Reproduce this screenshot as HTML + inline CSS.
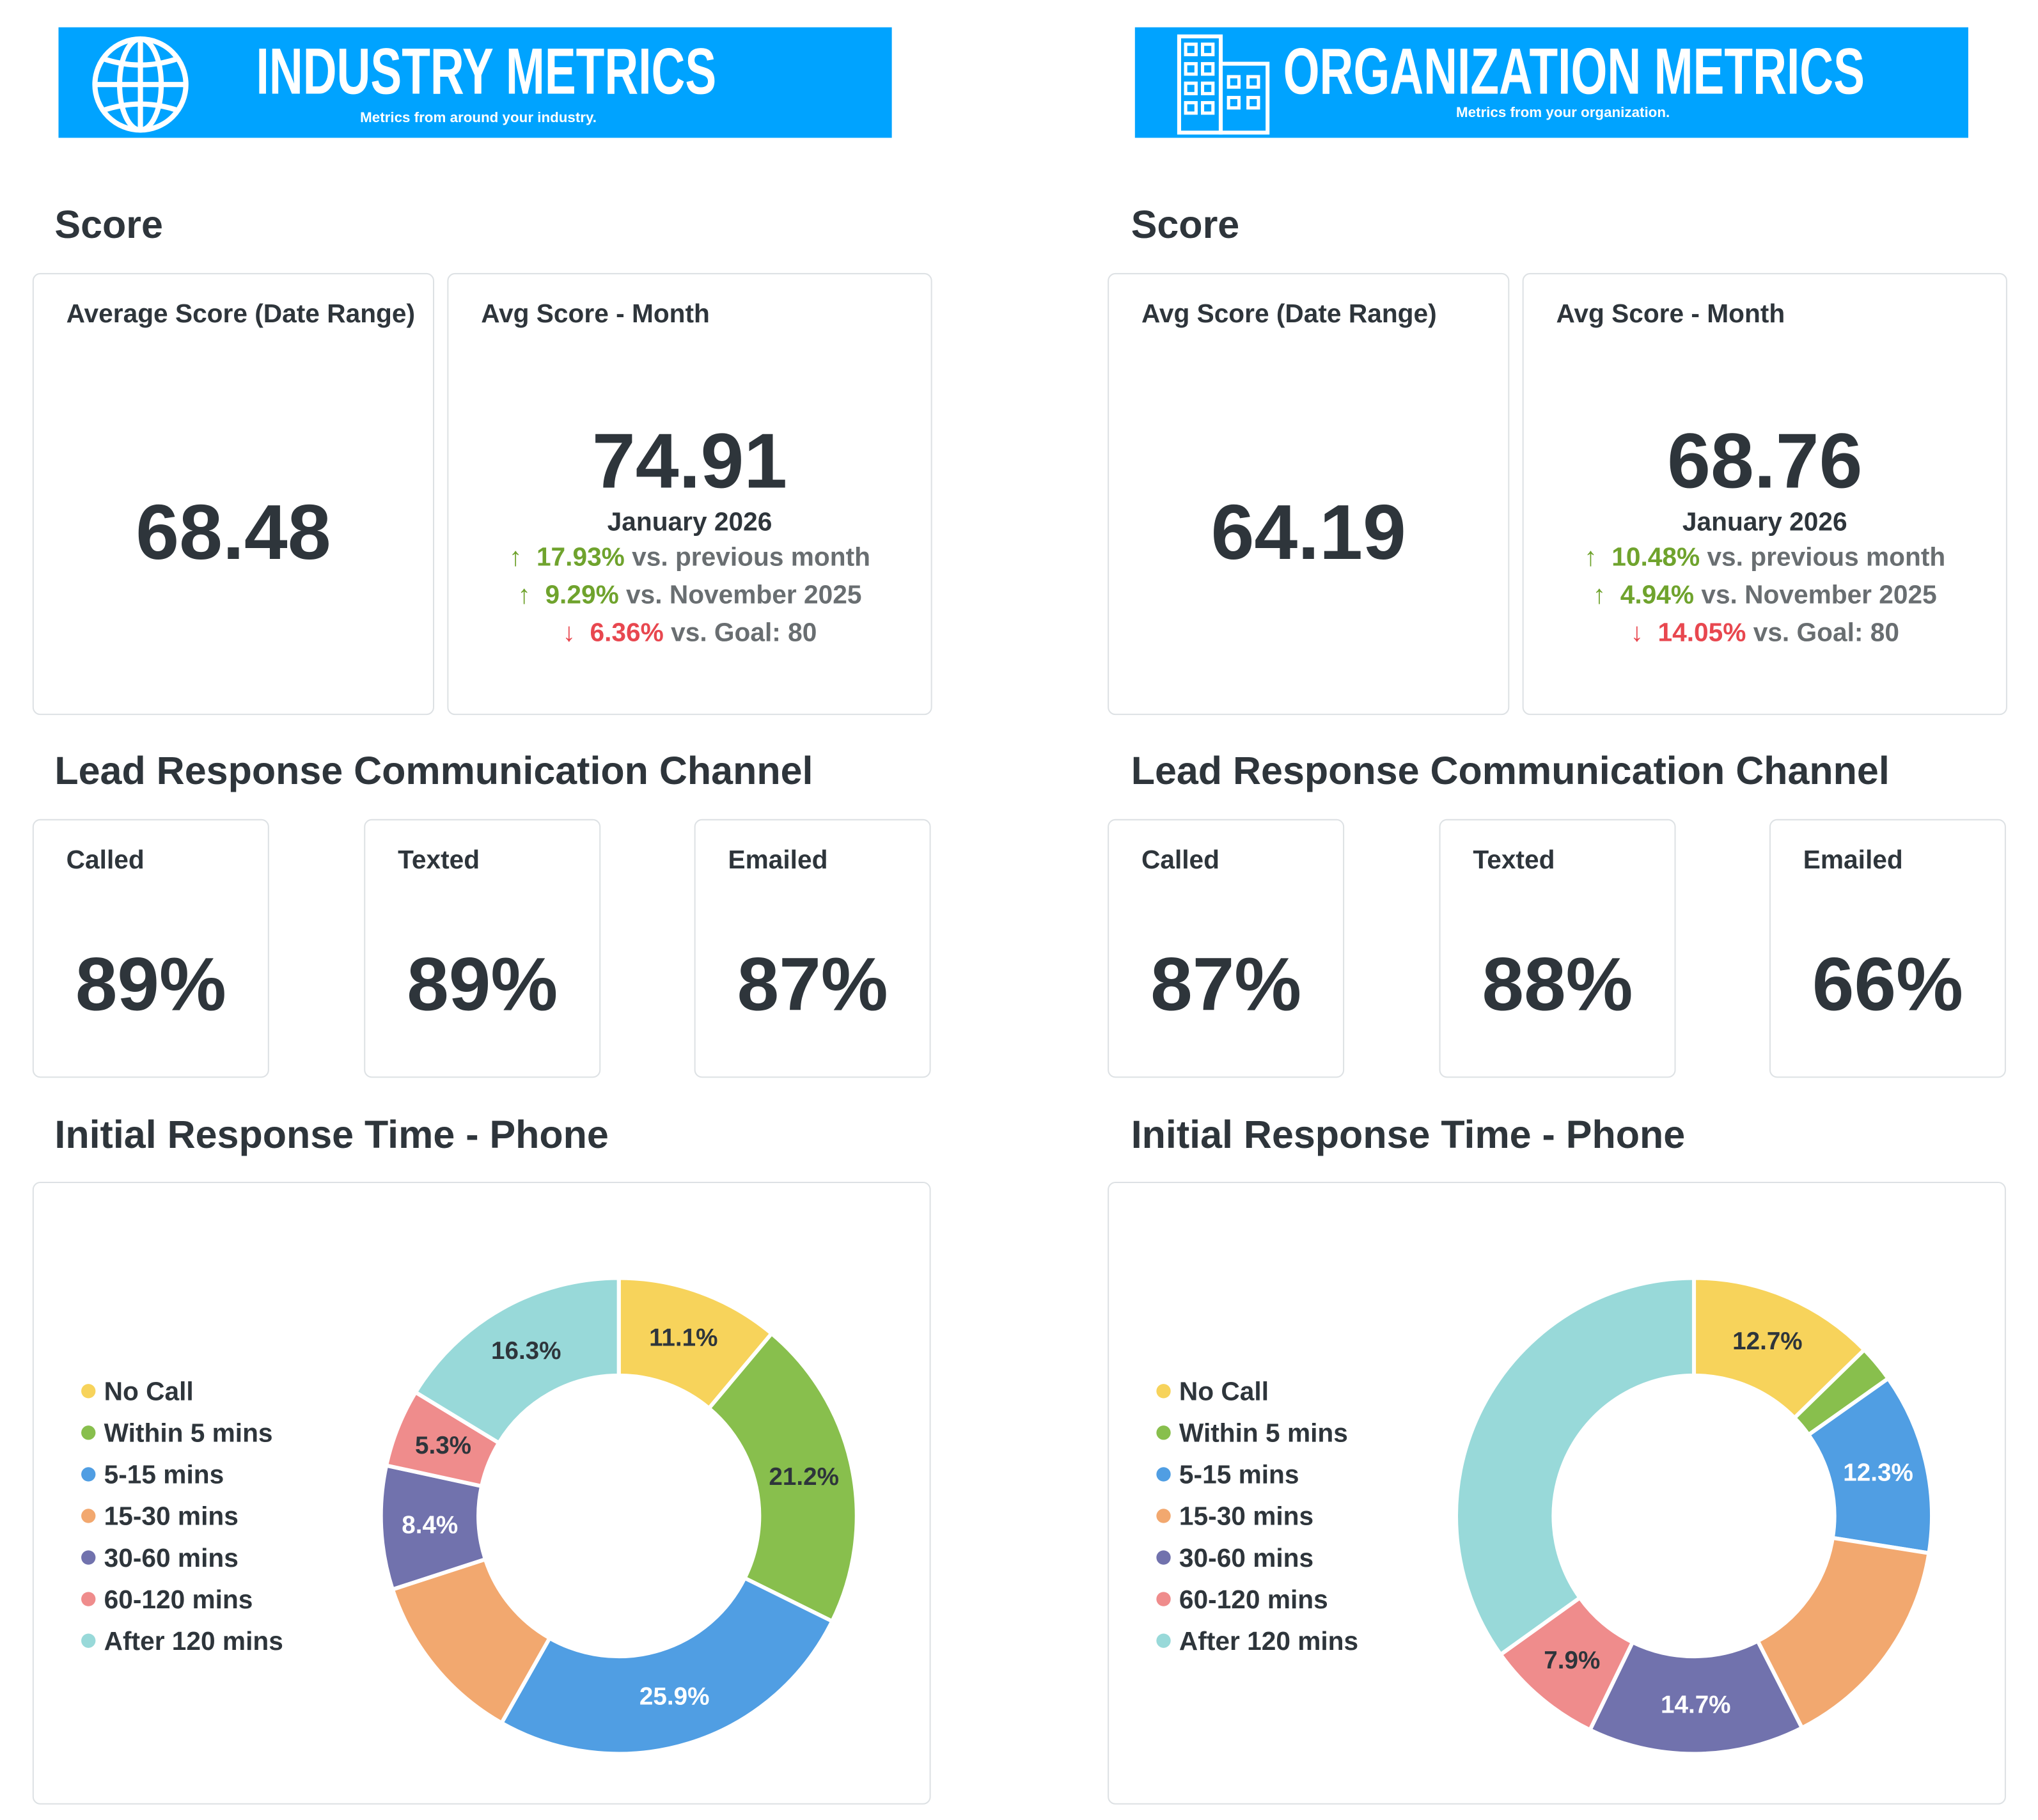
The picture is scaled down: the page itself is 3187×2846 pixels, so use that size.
<!DOCTYPE html>
<html><head><meta charset="utf-8">
<style>
html,body{margin:0;padding:0;background:#fff;}
body{width:3187px;height:2843px;overflow:hidden;position:relative;}
#root{position:absolute;left:0;top:0;width:1560px;height:1400px;transform:scale(2.033);transform-origin:0 0;font-family:"Liberation Sans",sans-serif;color:#2e353b;}
.abs{position:absolute;}
.banner{position:absolute;top:21px;height:85px;width:641px;background:#00a3ff;color:#fff;}
.btitle{position:absolute;font-weight:bold;font-size:50px;line-height:1;white-space:nowrap;transform:scaleX(0.72);transform-origin:0 0;}
.bsub{position:absolute;font-size:11px;font-weight:bold;white-space:nowrap;}
.h{position:absolute;font-size:30px;font-weight:bold;line-height:1;color:#2e353b;white-space:nowrap;}
.card{position:absolute;border:1.5px solid #dde1e4;border-radius:6px;background:#fff;box-sizing:border-box;}
.ctitle{position:absolute;left:25px;top:20px;font-size:20px;font-weight:bold;color:#2e353b;white-space:nowrap;}
.big{position:absolute;left:0;right:0;text-align:center;font-weight:bold;font-size:60px;line-height:1;}
.line{position:absolute;left:0;right:0;text-align:center;font-size:20px;line-height:1;color:#696e71;font-weight:bold;white-space:nowrap;}
.g{color:#6fa32d}.r{color:#e8474f}
.pct{position:absolute;left:0;right:0;text-align:center;font-size:58px;font-weight:bold;top:98px;line-height:1;}
</style></head><body>
<div id="root">
<div class="banner" style="left:45px">
 <svg class="abs" style="left:25px;top:6px" width="78" height="76" viewBox="0 0 78 76">
  <g fill="none" stroke="#fff" stroke-width="4">
   <ellipse cx="38" cy="38" rx="35" ry="35"/><ellipse cx="38" cy="38" rx="16" ry="35"/>
   <line x1="38" y1="3" x2="38" y2="73"/><line x1="3" y1="38" x2="73" y2="38"/>
   <path d="M9 18 Q38 28 67 18"/><path d="M9 58 Q38 48 67 58"/>
  </g></svg>
 <div class="btitle" style="left:152px;top:9px">INDUSTRY METRICS</div>
 <div class="bsub" style="left:232px;top:64px">Metrics from around your industry.</div>
</div>
<div class="banner" style="left:873px">
 <svg class="abs" style="left:28px;top:4px" width="80" height="80" viewBox="0 0 80 80">
  <g fill="none" stroke="#fff" stroke-width="3">
   <rect x="6" y="3" width="32" height="74"/><rect x="38" y="24" width="36" height="53"/>
   <g stroke-width="2.5">
   <rect x="11" y="9" width="8" height="8"/><rect x="24" y="9" width="8" height="8"/>
   <rect x="11" y="24" width="8" height="8"/><rect x="24" y="24" width="8" height="8"/>
   <rect x="11" y="39" width="8" height="8"/><rect x="24" y="39" width="8" height="8"/>
   <rect x="11" y="54" width="8" height="8"/><rect x="24" y="54" width="8" height="8"/>
   <rect x="44" y="34" width="8" height="8"/><rect x="59" y="34" width="8" height="8"/>
   <rect x="44" y="50" width="8" height="8"/><rect x="59" y="50" width="8" height="8"/>
   </g></g></svg>
 <div class="btitle" style="left:114px;top:9px">ORGANIZATION METRICS</div>
 <div class="bsub" style="left:247px;top:60px">Metrics from your organization.</div>
</div>

<div class="h" style="left:42px;top:159px">Score</div>
<div class="card" style="left:25px;top:210px;width:309px;height:340px">
 <div class="ctitle">Average Score (Date Range)</div>
 <div class="big" style="top:169px">68.48</div>
</div>
<div class="card" style="left:344px;top:210px;width:373px;height:340px">
 <div class="ctitle">Avg Score - Month</div>
 <div class="big" style="top:114px">74.91</div>
 <div class="line" style="top:181px;color:#2e353b">January 2026</div>
 <div class="line" style="top:208px"><span class="g">↑&nbsp; 17.93%</span> vs. previous month</div>
 <div class="line" style="top:237px"><span class="g">↑&nbsp; 9.29%</span> vs. November 2025</div>
 <div class="line" style="top:266px"><span class="r">↓&nbsp; 6.36%</span> vs. Goal: 80</div>
</div>
<div class="h" style="left:42px;top:579px">Lead Response Communication Channel</div>
<div class="card" style="left:25px;top:630px;width:182px;height:199px"><div class="ctitle">Called</div><div class="pct">89%</div></div>
<div class="card" style="left:280px;top:630px;width:182px;height:199px"><div class="ctitle">Texted</div><div class="pct">89%</div></div>
<div class="card" style="left:534px;top:630px;width:182px;height:199px"><div class="ctitle">Emailed</div><div class="pct">87%</div></div>
<div class="h" style="left:42px;top:859px">Initial Response Time - Phone</div>
<div class="card" style="left:25px;top:909px;width:691px;height:479px">
 <svg id="donutL" class="abs" style="left:0;top:0" width="691" height="479"></svg>
</div>

<div class="h" style="left:870px;top:159px">Score</div>
<div class="card" style="left:852px;top:210px;width:309px;height:340px">
 <div class="ctitle">Avg Score (Date Range)</div>
 <div class="big" style="top:169px">64.19</div>
</div>
<div class="card" style="left:1171px;top:210px;width:373px;height:340px">
 <div class="ctitle">Avg Score - Month</div>
 <div class="big" style="top:114px">68.76</div>
 <div class="line" style="top:181px;color:#2e353b">January 2026</div>
 <div class="line" style="top:208px"><span class="g">↑&nbsp; 10.48%</span> vs. previous month</div>
 <div class="line" style="top:237px"><span class="g">↑&nbsp; 4.94%</span> vs. November 2025</div>
 <div class="line" style="top:266px"><span class="r">↓&nbsp; 14.05%</span> vs. Goal: 80</div>
</div>
<div class="h" style="left:870px;top:579px">Lead Response Communication Channel</div>
<div class="card" style="left:852px;top:630px;width:182px;height:199px"><div class="ctitle">Called</div><div class="pct">87%</div></div>
<div class="card" style="left:1107px;top:630px;width:182px;height:199px"><div class="ctitle">Texted</div><div class="pct">88%</div></div>
<div class="card" style="left:1361px;top:630px;width:182px;height:199px"><div class="ctitle">Emailed</div><div class="pct">66%</div></div>
<div class="h" style="left:870px;top:859px">Initial Response Time - Phone</div>
<div class="card" style="left:852px;top:909px;width:691px;height:479px">
 <svg id="donutR" class="abs" style="left:0;top:0" width="691" height="479"></svg>
</div>
</div>
<script>
const categories = ["No Call","Within 5 mins","5-15 mins","15-30 mins","30-60 mins","60-120 mins","After 120 mins"];
const industryValues = [11.1,21.2,25.9,11.8,8.4,5.3,16.3];
const orgValues = [12.7,2.5,12.3,15.0,14.7,7.9,34.9];
const industryLabelShown = [true,true,true,false,true,true,true];
const orgLabelShown = [true,false,true,false,true,true,false];
const colors = ["#f7d35b","#88bf4d","#509ee3","#f2a86f","#7172ad","#ef8c8c","#98d9d9"];
const lightText = [false,false,true,false,true,false,false];
const NS="http://www.w3.org/2000/svg";
function draw(svg, values, shown, prefix){
  const cx=450, cy=256, R=183, r=108;
  const total=values.reduce((a,b)=>a+b,0);
  const ang=v=>v/total*2*Math.PI;
  const pt=(a,rad)=>[cx+rad*Math.sin(a), cy-rad*Math.cos(a)];
  let a0=0;
  values.forEach((v,i)=>{
    const a1=a0+ang(v);
    const large=(a1-a0)>Math.PI?1:0;
    const [x0,y0]=pt(a0,R),[x1,y1]=pt(a1,R),[x2,y2]=pt(a1,r),[x3,y3]=pt(a0,r);
    const p=document.createElementNS(NS,"path");
    p.setAttribute("d",`M${x0},${y0}A${R},${R} 0 ${large} 1 ${x1},${y1}L${x2},${y2}A${r},${r} 0 ${large} 0 ${x3},${y3}Z`);
    p.setAttribute("fill",colors[i]);p.setAttribute("stroke","#fff");p.setAttribute("stroke-width","3");
    
    
    svg.appendChild(p);
    if(shown[i]){
      const [lx,ly]=pt((a0+a1)/2,(R+r)/2);
      const t=document.createElementNS(NS,"text");
      t.setAttribute("x",lx);t.setAttribute("y",ly+6);t.setAttribute("text-anchor","middle");
      t.setAttribute("font-family","Liberation Sans, sans-serif");t.setAttribute("font-weight","bold");t.setAttribute("font-size","19");
      t.setAttribute("fill",lightText[i]?"#fff":"#2e353b");
      t.textContent=v.toFixed(1)+"%";
      
      
      svg.appendChild(t);
    }
    a0=a1;
  });
  categories.forEach((c,i)=>{
    const y=167+i*32;
    const d=document.createElementNS(NS,"circle");
    d.setAttribute("cx",42);d.setAttribute("cy",y-7);d.setAttribute("r",5.5);d.setAttribute("fill",colors[i]);
    
    
    svg.appendChild(d);
    const t=document.createElementNS(NS,"text");
    t.setAttribute("x",54);t.setAttribute("y",y);t.setAttribute("font-family","Liberation Sans, sans-serif");
    t.setAttribute("font-weight","bold");t.setAttribute("font-size","20");t.setAttribute("fill","#2e353b");
    t.textContent=c;
    
    
    svg.appendChild(t);
  });
}
draw(document.getElementById("donutL"),industryValues,industryLabelShown,"industry");
draw(document.getElementById("donutR"),orgValues,orgLabelShown,"org");
</script>
</body></html>
